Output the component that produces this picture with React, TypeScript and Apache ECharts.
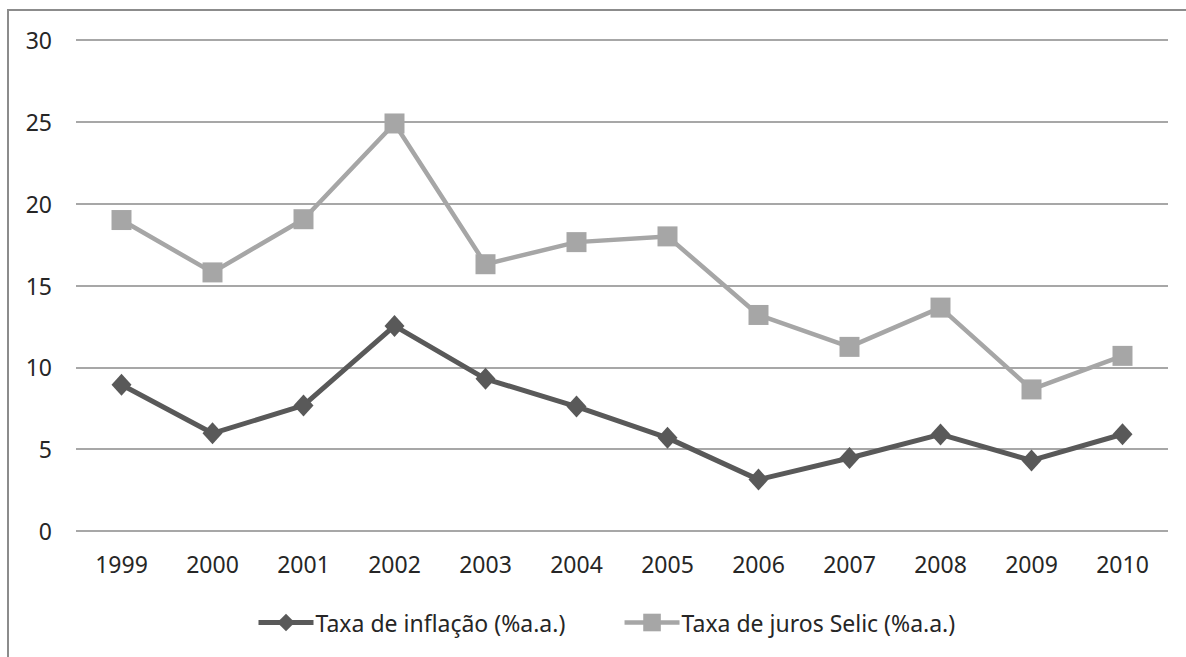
import React, { useEffect, useRef } from "react";
import * as echarts from "echarts";

// Anos e taxas anuais (%a.a.)
const years = ["1999", "2000", "2001", "2002", "2003", "2004", "2005", "2006", "2007", "2008", "2009", "2010"];
const inflacao = [8.94, 5.97, 7.67, 12.53, 9.3, 7.6, 5.69, 3.14, 4.46, 5.9, 4.31, 5.91];
const selic = [19.0, 15.8, 19.05, 24.9, 16.3, 17.65, 18.0, 13.2, 11.25, 13.65, 8.65, 10.7];
const seriesNames = ["Taxa de inflação (%a.a.)", "Taxa de juros Selic (%a.a.)"];

const FONT = "'Noto Sans', 'Open Sans', sans-serif";
const TEXT = "#262626";

export default function App() {
  const ref = useRef<HTMLDivElement>(null);

  useEffect(() => {
    if (!ref.current) return;
    const chart = echarts.init(ref.current, undefined, { renderer: "svg" });
    chart.setOption({
      animation: false,
      backgroundColor: "#ffffff",
      textStyle: { fontFamily: FONT, color: TEXT },
      graphic: [
        {
          type: "rect",
          shape: { x: 8, y: 10, width: 1300, height: 800 },
          style: { fill: "none", stroke: "#8c8c8c", lineWidth: 2 },
          silent: true,
        },
      ],
      grid: { left: 76, right: 18, top: 40, bottom: 126 },
      legend: {
        left: 256,
        top: 611,
        padding: 0,
        itemWidth: 55,
        itemHeight: 22,
        itemGap: 57,
        lineStyle: { width: "inherit" },
        textStyle: { fontFamily: FONT, fontSize: 23, color: TEXT, padding: [0, 0, 0, -3] },
        data: seriesNames,
      },
      xAxis: {
        type: "category",
        data: years,
        boundaryGap: true,
        axisLine: { show: false },
        axisTick: { show: false },
        axisLabel: { fontFamily: FONT, fontSize: 23, color: TEXT, margin: 21 },
      },
      yAxis: {
        type: "value",
        min: 0,
        max: 30,
        interval: 5,
        axisLine: { show: false },
        axisTick: { show: false },
        axisLabel: { fontFamily: FONT, fontSize: 23, color: TEXT, margin: 24 },
        splitLine: { lineStyle: { color: "#8a8a8a", width: 1.5 } },
      },
      series: [
        {
          name: seriesNames[0],
          type: "line",
          data: inflacao,
          symbol: "diamond",
          symbolSize: [20, 22],
          lineStyle: { color: "#595959", width: 5 },
          itemStyle: { color: "#595959" },
          z: 3,
        },
        {
          name: seriesNames[1],
          type: "line",
          data: selic,
          symbol: "rect",
          symbolSize: 20,
          lineStyle: { color: "#a6a6a6", width: 4.5 },
          itemStyle: { color: "#a6a6a6" },
          z: 2,
        },
      ],
    });
    return () => chart.dispose();
  }, []);

  return (
    <div
      ref={ref}
      style={{ position: "absolute", left: 0, top: 0, width: 1186, height: 657 }}
    />
  );
}
